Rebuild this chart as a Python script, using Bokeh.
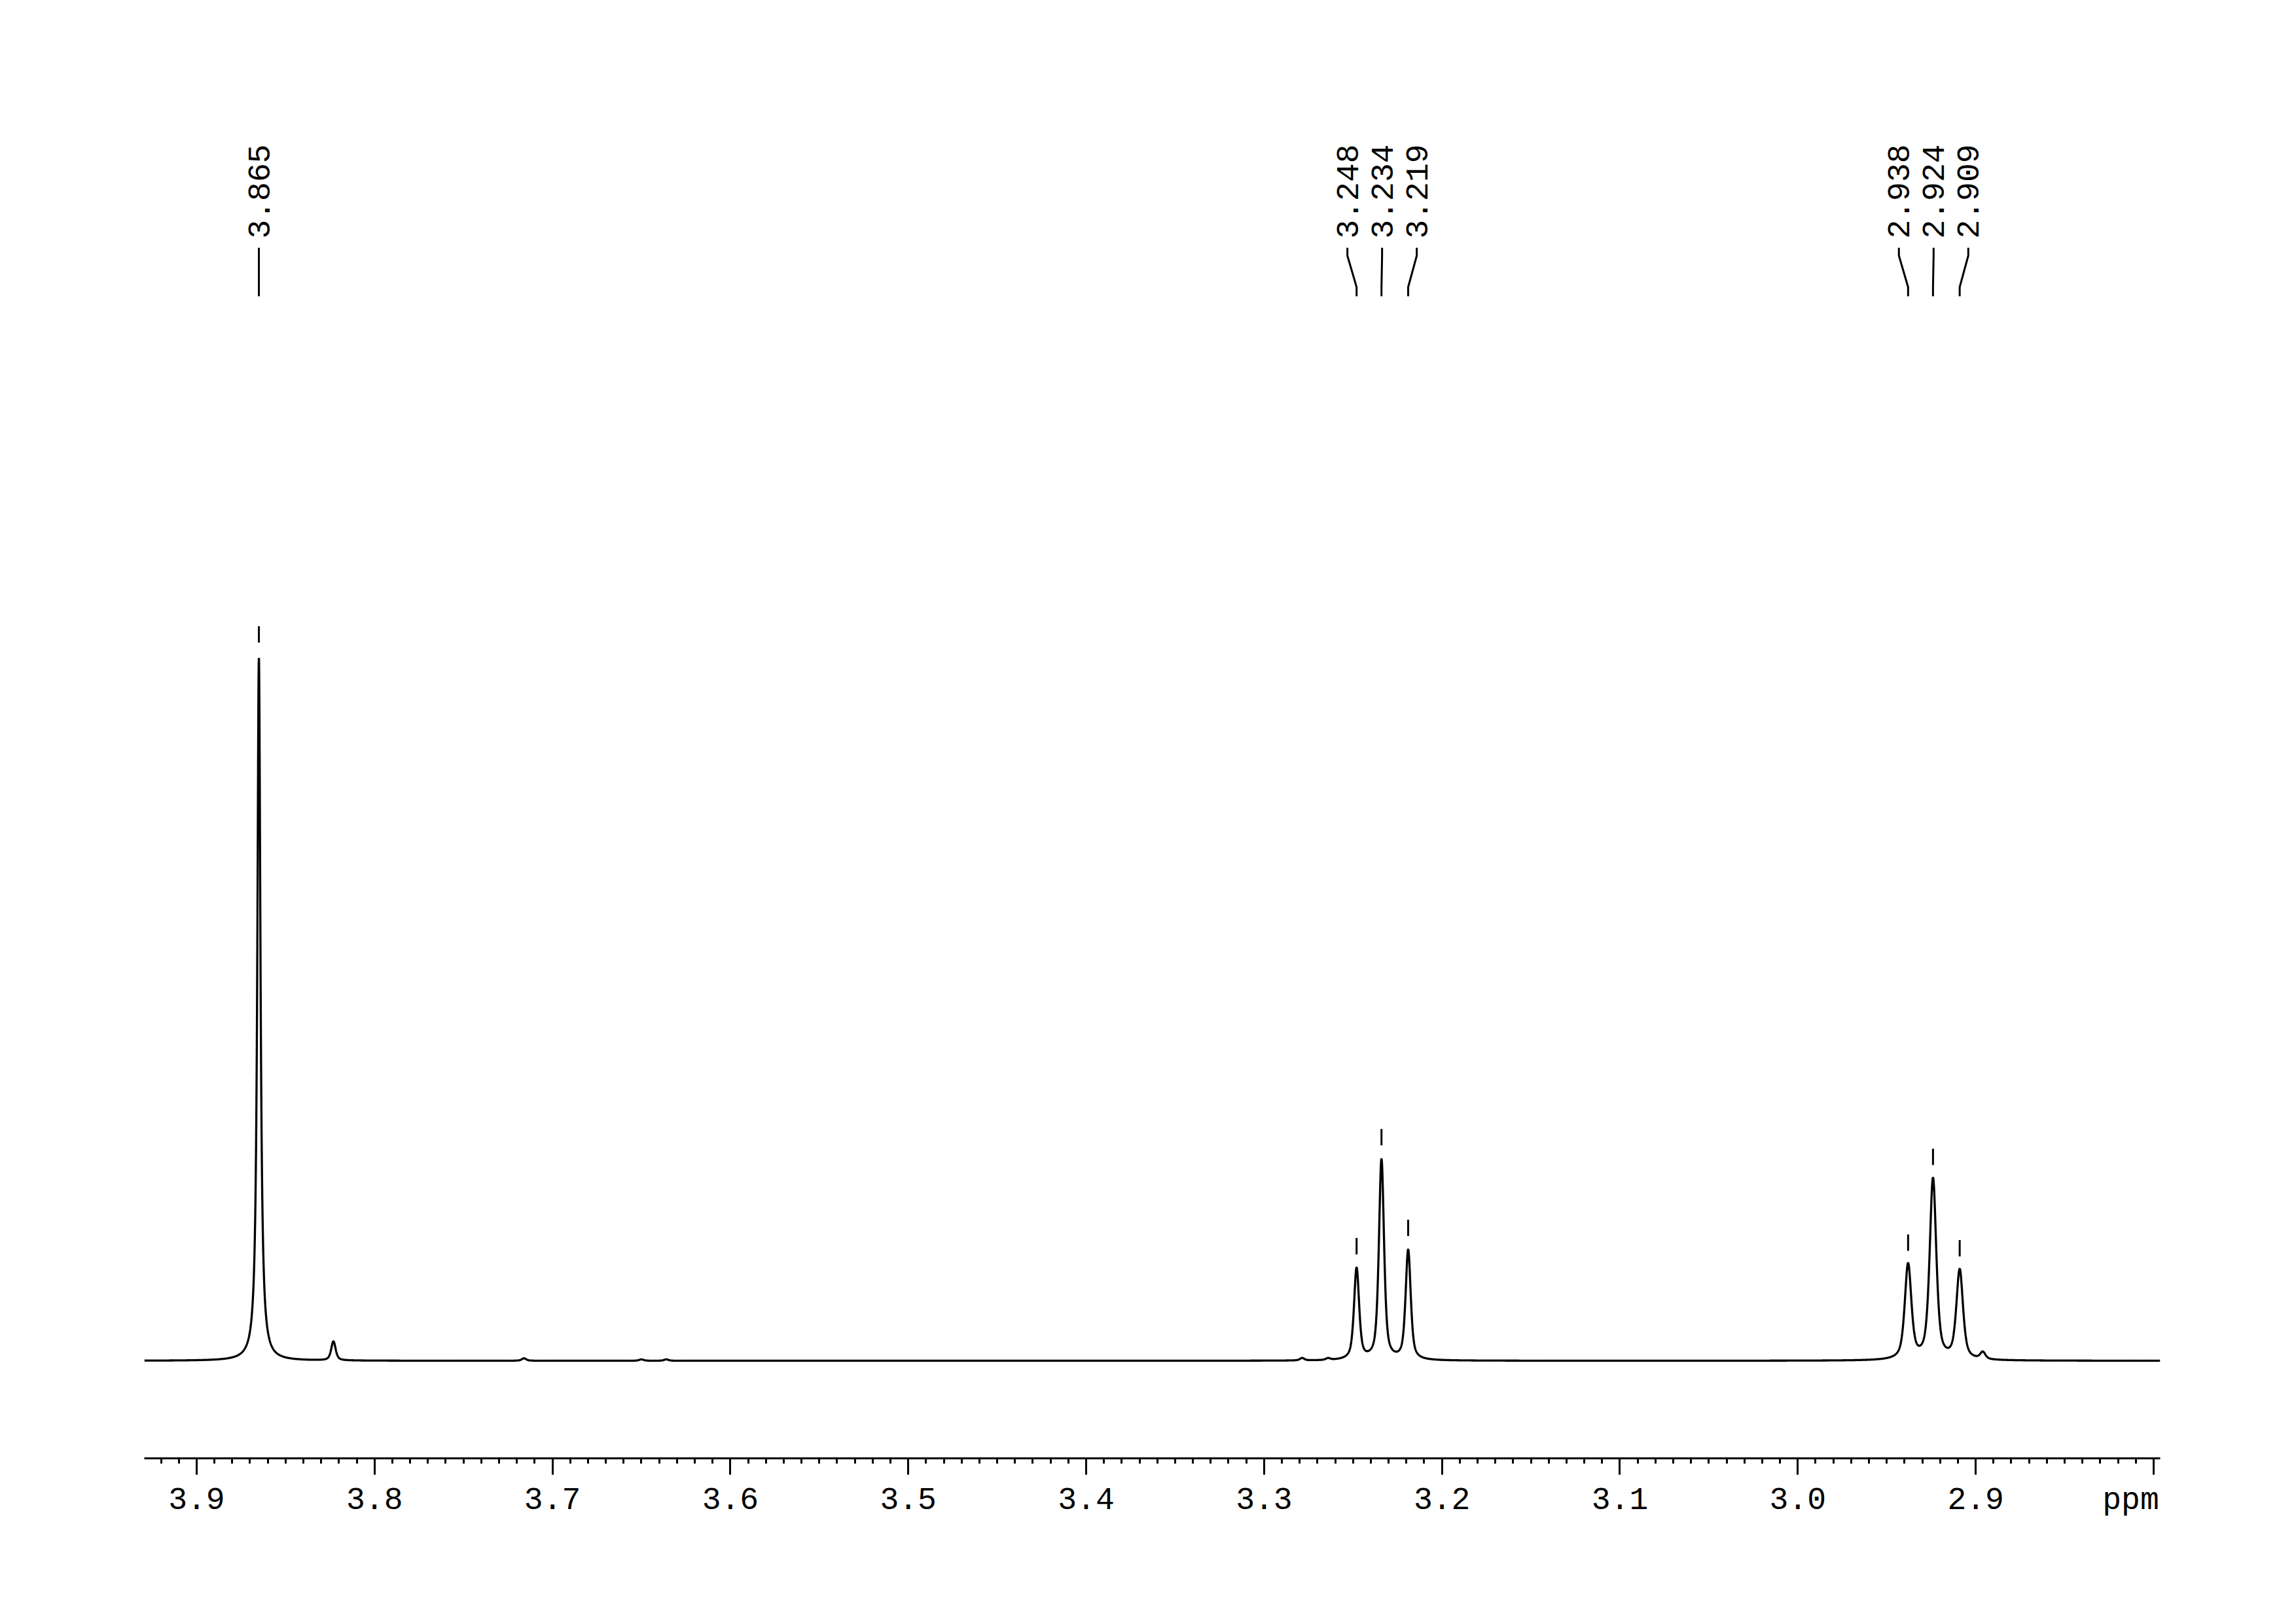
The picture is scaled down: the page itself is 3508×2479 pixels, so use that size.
import numpy as np
from bokeh.plotting import figure
from bokeh.models import Range1d, FixedTicker, LinearAxis, ColumnDataSource
from bokeh.embed import file_html
from bokeh.resources import INLINE
from bokeh.core.properties import value

# ---------------- data ----------------
peak_labels = ["3.865", "3.248", "3.234", "3.219", "2.938", "2.924", "2.909"]
peak_ppm = [3.865, 3.248, 3.234, 3.219, 2.938, 2.924, 2.909]
peak_height = [100.0, 13.0, 28.5, 15.6, 13.5, 25.7, 12.7]
peak_fwhm = [0.0021, 0.0034, 0.0034, 0.0034, 0.0044, 0.0044, 0.0044]
peak_eta = [1.0, 0.6, 0.6, 0.6, 0.6, 0.6, 0.6]      # Lorentzian fraction of line shape
peak_group = [0, 1, 1, 1, 2, 2, 2]

small_ppm = [3.8231, 3.716, 3.650, 3.636, 3.2786, 3.264, 2.896]
small_height = [2.7, 0.35, 0.2, 0.2, 0.35, 0.25, 1.0]
small_fwhm = [0.0030, 0.0030, 0.0030, 0.0030, 0.0030, 0.0030, 0.0035]
small_eta = [0.6, 0.6, 0.6, 0.6, 0.6, 0.6, 0.6]

major_ticks = [3.9, 3.8, 3.7, 3.6, 3.5, 3.4, 3.3, 3.2, 3.1, 3.0, 2.9, 2.8]
tick_labels = ["3.9", "3.8", "3.7", "3.6", "3.5", "3.4", "3.3", "3.2", "3.1", "3.0", "2.9"]
x_unit_label = "ppm"

# ---------------- layout ----------------
W, H = 3500, 2470
X_START, X_END = 3.9294, 2.7963
FRAME_L, FRAME_R = 220, 3300
FRAME_T, FRAME_B = 108, 2227
BASE_PX = 2078
K = 10.74                              # px per intensity unit
Y0 = -(FRAME_B - BASE_PX) / K
Y1 = (BASE_PX - FRAME_T) / K


def y_of_px(px):
    return (BASE_PX - px) / K


def px_of_ppm(ppm):
    return FRAME_L + (X_START - ppm) / (X_START - X_END) * (FRAME_R - FRAME_L)


def ppm_of_px(px):
    return X_START - (px - FRAME_L) / (FRAME_R - FRAME_L) * (X_START - X_END)


FONT = "Liberation Mono"

p = figure(width=W, height=H, x_range=Range1d(X_START, X_END), y_range=Range1d(Y0, Y1),
           y_axis_type=None, output_backend="svg", toolbar_location=None,
           min_border_left=FRAME_L, min_border_right=W - FRAME_R,
           min_border_top=FRAME_T, min_border_bottom=H - FRAME_B)
p.outline_line_color = None
p.grid.visible = False
p.background_fill_color = "white"
p.border_fill_color = "white"

# spectrum: sum of pseudo-Voigt lines from the peak list
x = np.linspace(X_START, X_END, 16000)
y = np.zeros_like(x)
for c, h, w, eta in zip(peak_ppm + small_ppm, peak_height + small_height,
                        peak_fwhm + small_fwhm, peak_eta + small_eta):
    u = (x - c) / w
    y += h * (eta / (1 + 4 * u * u) + (1 - eta) * np.exp(-4 * np.log(2) * u * u))
p.line(x, y, line_color="black", line_width=3.3)

# peak markers
gap = 23 / K
mlen = 25 / K
p.segment(x0=peak_ppm, x1=peak_ppm,
          y0=[h + gap for h in peak_height], y1=[h + gap + mlen for h in peak_height],
          line_color="black", line_width=3)

# label positions
label_x = []
for gidx in sorted(set(peak_group)):
    members = [i for i, g in enumerate(peak_group) if g == gidx]
    cpx = np.mean([px_of_ppm(peak_ppm[i]) for i in members])
    n = len(members)
    for j, i in enumerate(members):
        label_x.append(ppm_of_px(cpx + (j - (n - 1) / 2) * 53))

ya, yb, yc, yd = y_of_px(378), y_of_px(390), y_of_px(438), y_of_px(452)
xs = [[lx, lx, px_, px_] for lx, px_ in zip(label_x, peak_ppm)]
ys = [[ya, yb, yc, yd] for _ in peak_ppm]
p.multi_line(xs, ys, line_color="black", line_width=3)

src = ColumnDataSource(dict(x=label_x, y=[y_of_px(364)] * len(label_x), t=peak_labels))
p.text(x="x", y="y", text="t", source=src, angle=np.pi / 2, text_align="left",
       text_baseline="middle", text_font=value(FONT), text_font_size="48px", text_color="black")

# axis 1: line and ticks
ax = p.xaxis[0]
ax.ticker = FixedTicker(ticks=major_ticks,
                        minor_ticks=[round(3.93 - 0.01 * i, 2) for i in range(114)])
ax.major_label_overrides = {t: "" for t in major_ticks}
ax.major_label_text_font_size = "0px"
ax.major_label_standoff = 0
ax.axis_line_width = 3
ax.axis_line_color = "black"
ax.major_tick_line_width = 3
ax.minor_tick_line_width = 3
ax.major_tick_line_color = "black"
ax.minor_tick_line_color = "black"
ax.major_tick_out = 25
ax.major_tick_in = 0
ax.minor_tick_out = 8
ax.minor_tick_in = 0

# axis 2: tick labels and unit
ppm_pos = ppm_of_px(3255)
ax2 = LinearAxis(ticker=FixedTicker(ticks=major_ticks[:-1] + [ppm_pos], minor_ticks=[]))
ax2.major_label_overrides = {t: l for t, l in zip(major_ticks[:-1] + [ppm_pos],
                                                  tick_labels + [x_unit_label])}
ax2.axis_line_color = None
ax2.major_tick_line_color = None
ax2.minor_tick_line_color = None
ax2.major_tick_out = 0
ax2.major_tick_in = 0
ax2.minor_tick_out = 0
ax2.minor_tick_in = 0
ax2.major_label_text_font = FONT
ax2.major_label_text_font_size = "48px"
ax2.major_label_text_color = "black"
ax2.major_label_standoff = 12
p.add_layout(ax2, "below")

open("out.html", "w").write(file_html(p, INLINE))
